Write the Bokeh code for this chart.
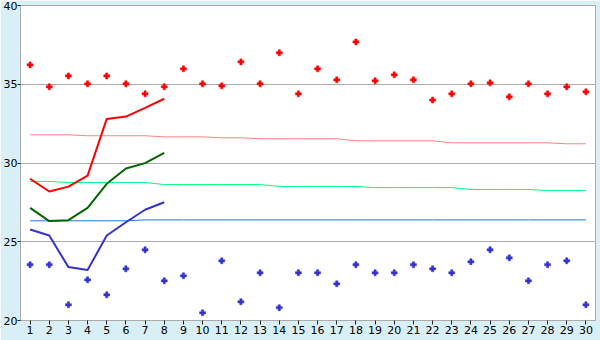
from bokeh.plotting import figure
from bokeh.models import Range1d, FixedTicker
from bokeh.embed import file_html
from bokeh.resources import INLINE

days = list(range(1, 31))

# scatter series
high_pts = [36.23, 34.84, 35.53, 35.03, 35.53, 35.03, 34.39, 34.84, 35.98, 35.03,
            34.90, 36.42, 35.03, 37.00, 34.39, 35.98, 35.28, 37.69, 35.22, 35.60,
            35.28, 34.00, 34.39, 35.03, 35.09, 34.20, 35.03, 34.39, 34.84, 34.52]
low_pts = [23.54, 23.54, 21.00, 22.58, 21.63, 23.28, 24.49, 22.52, 22.84, 20.49,
           23.79, 21.19, 23.03, 20.81, 23.03, 23.03, 22.33, 23.54, 23.03, 23.03,
           23.54, 23.28, 23.03, 23.73, 24.49, 23.98, 22.52, 23.54, 23.79, 21.00]

# thick lines (first 8 days)
line_days = [1, 2, 3, 4, 5, 6, 7, 8]
red_line = [29.0, 28.19, 28.5, 29.2, 32.8, 32.95, 33.5, 34.08]
green_line = [27.15, 26.31, 26.37, 27.15, 28.68, 29.65, 29.99, 30.65]
blue_line = [25.78, 25.4, 23.39, 23.2, 25.4, 26.24, 27.03, 27.51]

# thin reference lines
salmon_ref = [31.79, 31.79, 31.79, 31.73, 31.73, 31.73, 31.73, 31.66, 31.66, 31.66,
              31.60, 31.60, 31.54, 31.54, 31.54, 31.54, 31.54, 31.41, 31.41, 31.41,
              31.41, 31.41, 31.28, 31.28, 31.28, 31.28, 31.28, 31.28, 31.22, 31.22]
green_ref = [28.83, 28.83, 28.76, 28.76, 28.76, 28.76, 28.76, 28.63, 28.63, 28.63,
             28.63, 28.63, 28.63, 28.51, 28.51, 28.51, 28.51, 28.51, 28.44, 28.44,
             28.44, 28.44, 28.44, 28.32, 28.32, 28.32, 28.32, 28.25, 28.25, 28.25]
blue_ref = [26.33, 26.33, 26.33, 26.33, 26.33, 26.33, 26.39, 26.39, 26.39, 26.39,
            26.39, 26.39, 26.39, 26.39, 26.39, 26.39, 26.39, 26.39, 26.39, 26.39,
            26.39, 26.39, 26.39, 26.39, 26.39, 26.39, 26.39, 26.39, 26.39, 26.39]

y_ticks = [20, 25, 30, 35, 40]

p = figure(width=600, height=340, output_backend="svg", toolbar_location=None,
           x_range=Range1d(0.5, 30.5), y_range=Range1d(20, 40),
           min_border_left=20, min_border_right=5, min_border_top=5, min_border_bottom=20)
p.border_fill_color = "#d9eff6"
p.background_fill_color = "white"
p.outline_line_color = "#aaaaaa"
p.outline_line_width = 1

p.xgrid.visible = False
p.ygrid.grid_line_color = "#aaaaaa"
p.ygrid.ticker = FixedTicker(ticks=y_ticks)

p.yaxis.ticker = FixedTicker(ticks=y_ticks)
p.xaxis.ticker = FixedTicker(ticks=days)
for ax in (p.xaxis[0], p.yaxis[0]):
    ax.axis_line_color = "#aaaaaa"
    ax.major_tick_line_color = "#222222"
    ax.minor_tick_line_color = None
    ax.major_tick_in = 0
    ax.major_tick_out = 4
    ax.major_label_text_font = "DejaVu Sans"
    ax.major_label_text_font_size = "11px"
    ax.major_label_text_color = "black"
    ax.major_label_standoff = 1
p.yaxis[0].major_tick_out = 3
p.yaxis[0].major_label_standoff = 0

p.line(days, salmon_ref, line_color="#ff8080", line_width=1)
p.line(days, green_ref, line_color="#00ff80", line_width=1)
p.line(days, blue_ref, line_color="#1e78e0", line_width=1)

p.line(line_days, red_line, line_color="#ff0000", line_width=2)
p.line(line_days, green_line, line_color="#006600", line_width=2)
p.line(line_days, blue_line, line_color="#3333cc", line_width=2)

p.scatter(days, high_pts, marker="plus", size=6, fill_color="#ff0000", line_color="#ff0000", line_width=0.5)
p.scatter(days, low_pts, marker="plus", size=6, fill_color="#3333cc", line_color="#3333cc", line_width=0.5)

open("out.html", "w").write(file_html(p, INLINE))
